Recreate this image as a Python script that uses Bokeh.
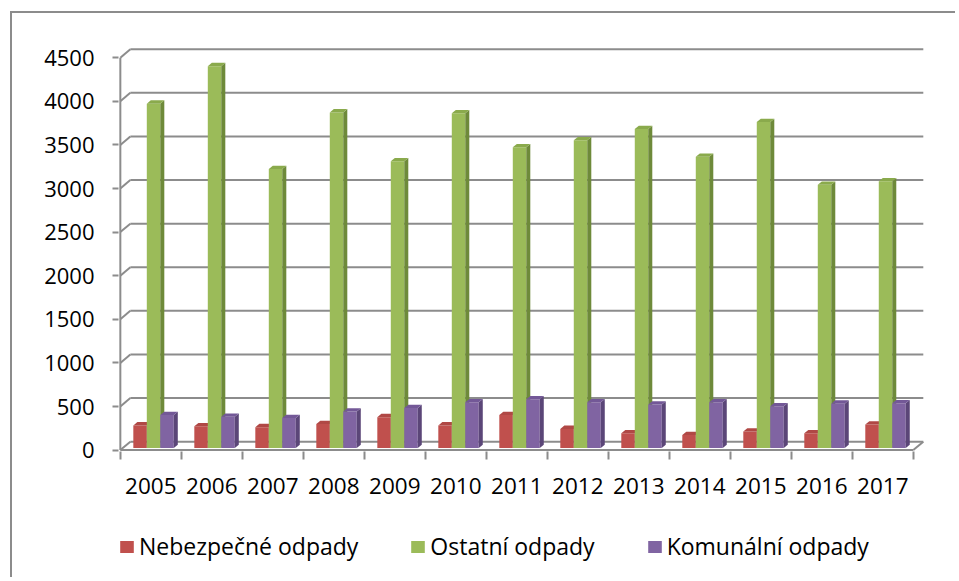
from bokeh.plotting import figure
from bokeh.layouts import column
from bokeh.models import FixedTicker, Legend, LegendItem, ColumnDataSource, Range1d
from bokeh.embed import file_html
from bokeh.resources import INLINE

years = ["2005", "2006", "2007", "2008", "2009", "2010", "2011",
         "2012", "2013", "2014", "2015", "2016", "2017"]
nebezpecne = [260, 250, 240, 275, 355, 260, 380, 220, 170, 150, 190, 170, 270]
ostatni = [3950, 4380, 3200, 3850, 3290, 3840, 3450, 3530, 3660, 3340, 3740, 3020, 3060]
komunalni = [380, 360, 345, 420, 460, 525, 560, 525, 500, 525, 480, 510, 515]
y_ticks = [0, 500, 1000, 1500, 2000, 2500, 3000, 3500, 4000, 4500]

series = [
    ("Nebezpečné odpady", nebezpecne, "#C0504D", "#8F3A38", "#B04845"),
    ("Ostatní odpady", ostatni, "#9BBB59", "#6E8A3A", "#8AAA4C"),
    ("Komunální odpady", komunalni, "#8064A2", "#5B4678", "#735897"),
]

GRID = "#8c8c8c"
FONT = "Open Sans"
n = len(years)

# 3D geometry (data units)
WALL_DX, WALL_DY = 0.164, 97      # back wall offset
BAR_W = 0.221
BAR_X0 = 0.172                    # first bar's left within category
BAR_SHIFT_X, BAR_BASE = 0.041, 23  # bars' depth position
SIDE_DX, SIDE_DY = 0.066, 38       # bar depth

p = figure(frame_width=807, frame_height=406,
           x_range=(-0.03, 13.2), y_range=(-16, 4640),
           min_border_left=106, min_border_right=30,
           min_border_top=32, min_border_bottom=60,
           output_backend="svg", toolbar_location=None)
p.outline_line_color = None
p.grid.visible = False
p.background_fill_color = "white"

# back wall gridlines and left-wall diagonals
p.segment(x0=[WALL_DX] * len(y_ticks), y0=[v + WALL_DY for v in y_ticks],
          x1=[n + WALL_DX] * len(y_ticks), y1=[v + WALL_DY for v in y_ticks],
          line_color=GRID, line_width=2)
p.segment(x0=[0] * len(y_ticks), y0=y_ticks,
          x1=[WALL_DX] * len(y_ticks), y1=[v + WALL_DY for v in y_ticks],
          line_color=GRID, line_width=2)
# floor front edge, right edge, y axis line
p.segment(x0=[0, n, 0], y0=[0, 0, 0], x1=[n, n + WALL_DX, 0], y1=[0, WALL_DY, y_ticks[-1]],
          line_color=GRID, line_width=2)

# legend-only figure (its ranges show none of the bars)
p2 = figure(width=p.min_border_left + 807 + 30, height=66,
            x_range=Range1d(-50, -49), y_range=Range1d(-50, -49),
            x_axis_type=None, y_axis_type=None,
            min_border_left=0, min_border_right=0, min_border_top=0, min_border_bottom=0,
            output_backend="svg", toolbar_location=None)
p2.outline_line_color = None
p2.grid.visible = False

items = []
for k, (name, vals, cf, cs, ct) in enumerate(series):
    lefts = [i + BAR_X0 + BAR_SHIFT_X + k * BAR_W for i in range(n)]
    rights = [l + BAR_W for l in lefts]
    bottoms = [BAR_BASE] * n
    tops = [BAR_BASE + v for v in vals]
    src = ColumnDataSource(dict(left=lefts, right=rights, bottom=bottoms, top=tops))
    p.quad(left="left", right="right", bottom="bottom", top="top", source=src,
           fill_color=cf, line_color=None)
    side_xs = [[rr, rr + SIDE_DX, rr + SIDE_DX, rr] for rr in rights]
    side_ys = [[b, b + SIDE_DY, t + SIDE_DY, t] for b, t in zip(bottoms, tops)]
    p.patches(side_xs, side_ys, fill_color=cs, line_color=None)
    top_xs = [[l, rr, rr + SIDE_DX, l + SIDE_DX] for l, rr in zip(lefts, rights)]
    top_ys = [[t, t, t + SIDE_DY, t + SIDE_DY] for t in tops]
    p.patches(top_xs, top_ys, fill_color=ct, line_color=None)
    r2 = p2.quad(left="left", right="right", bottom="bottom", top="top", source=src,
                 fill_color=cf, line_color=None)
    items.append(LegendItem(label=name, renderers=[r2]))

# y axis
p.yaxis.ticker = FixedTicker(ticks=y_ticks)
p.yaxis.axis_line_color = None
p.yaxis.major_tick_line_color = GRID
p.yaxis.major_tick_line_width = 2
p.yaxis.major_tick_out = 6
p.yaxis.major_tick_in = 0
p.yaxis.minor_tick_line_color = None
p.yaxis.major_label_standoff = 18
p.yaxis.major_label_text_font = FONT
p.yaxis.major_label_text_font_size = "22px"
p.yaxis.major_label_text_color = "black"

# x axis
centers = [i + 0.5 for i in range(n)]
p.xaxis.ticker = FixedTicker(ticks=centers, minor_ticks=list(range(n + 1)))
p.xaxis.major_label_overrides = {c: y for c, y in zip(centers, years)}
p.xaxis.axis_line_color = None
p.xaxis.major_tick_line_color = None
p.xaxis.major_tick_out = 0
p.xaxis.major_tick_in = 0
p.xaxis.minor_tick_line_color = GRID
p.xaxis.minor_tick_line_width = 2
p.xaxis.minor_tick_out = 8
p.xaxis.minor_tick_in = 0
p.xaxis.major_label_standoff = 18
p.xaxis.major_label_text_font = FONT
p.xaxis.major_label_text_font_size = "22.5px"
p.xaxis.major_label_text_color = "black"

legend = Legend(items=items, orientation="horizontal", location=(0, 15),
                glyph_width=17, glyph_height=15, label_height=15,
                label_standoff=4, spacing=51, padding=0, margin=0,
                border_line_color=None, background_fill_alpha=0,
                label_text_font=FONT, label_text_font_size="23px",
                label_text_color="black")
p2.add_layout(legend, "center")

layout = column(p, p2, spacing=0,
                styles={"margin-left": "10px", "margin-top": "11px",
                        "border-left": "2px solid #8c8c8c",
                        "border-top": "2px solid #8c8c8c"})

open("out.html", "w").write(file_html(layout, INLINE))
